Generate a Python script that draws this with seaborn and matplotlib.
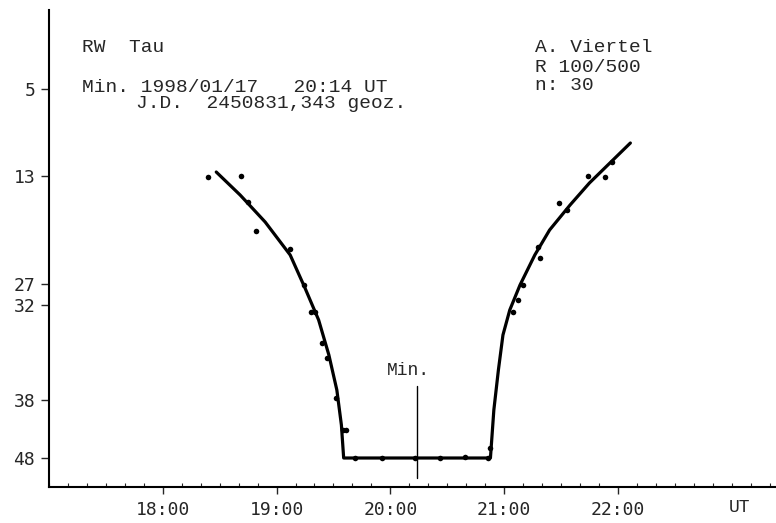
import matplotlib
matplotlib.use("Agg")
import matplotlib.pyplot as plt
import seaborn as sns
import pandas as pd
from matplotlib.ticker import MultipleLocator

# ---- data (UT in decimal hours, brightness in step units, 0 = top) ----
obs_time = [18.40, 18.69, 18.75, 18.82, 19.12, 19.24, 19.30, 19.34, 19.40, 19.44,
            19.52, 19.58, 19.61, 19.69, 19.93, 20.22, 20.44, 20.66, 20.86, 20.88,
            21.08, 21.12, 21.17, 21.30, 21.32, 21.48, 21.55, 21.74, 21.89, 21.95]
obs_step = [16.7, 16.6, 19.2, 22.1, 23.9, 27.5, 30.2, 30.2, 33.3, 34.8,
            38.8, 42.0, 42.0, 44.8, 44.8, 44.8, 44.8, 44.7, 44.8, 43.8,
            30.2, 29.0, 27.5, 23.7, 24.8, 19.3, 20.0, 16.6, 16.7, 15.2]

curve_time = [18.47, 18.68, 18.90, 19.12, 19.25, 19.37, 19.46, 19.53, 19.57, 19.59,
              20.88, 20.91, 20.95, 20.99, 21.05, 21.14, 21.27, 21.40, 21.58, 21.75,
              21.93, 22.11]
curve_step = [16.2, 18.5, 21.2, 24.5, 27.8, 31.0, 34.5, 38.0, 41.5, 44.8,
              44.8, 40.0, 36.0, 32.5, 30.0, 27.5, 24.5, 22.0, 19.5, 17.3,
              15.3, 13.3]

comp_levels = [7.9, 16.6, 27.4, 29.5, 39.0, 44.8]
comp_labels = ["5", "13", "27", "32", "38", "48"]

hour_ticks = [18, 19, 20, 21, 22]
hour_labels = ["18:00", "19:00", "20:00", "21:00", "22:00"]

min_time = 20.233  # 20:14 UT

obs = pd.DataFrame({"t": obs_time, "m": obs_step})
fit = pd.DataFrame({"t": curve_time, "m": curve_step})

sns.set_style("ticks")
plt.rcParams["font.family"] = ["DejaVu Sans Mono", "DejaVu Sans"]
TYPE = ["Liberation Mono", "DejaVu Sans Mono"]

fig = plt.figure(figsize=(7.76, 5.23), dpi=100)
ax = fig.add_axes([49 / 776, 1 - 487 / 523, 1 - 49 / 776, (487 - 10) / 523])

sns.lineplot(data=fit, x="t", y="m", sort=False, color="black", lw=2.3, ax=ax)
sns.scatterplot(data=obs, x="t", y="m", color="black", s=16, linewidth=0, ax=ax)

ax.set_xlim(17.0, 23.39)
ax.set_ylim(47.7, 0)

# Min marker
ax.plot([min_time, min_time], [37.6, 46.8], color="black", lw=1.0, clip_on=False)
ax.text(20.16, 36.1, "Min.", ha="center", va="center", fontsize=13, family=TYPE)

ax.set_xticks(hour_ticks)
ax.set_xticklabels(hour_labels, fontsize=13)
ax.xaxis.set_minor_locator(MultipleLocator(1 / 6))
ax.tick_params(axis="x", which="major", direction="out", length=5, width=1, pad=5)
ax.tick_params(axis="x", which="minor", direction="in", length=3, width=0.8)
ax.set_yticks(comp_levels)
ax.set_yticklabels(comp_labels, fontsize=13)
ax.tick_params(axis="y", direction="out", length=6, width=1, pad=4)

ax.set_xlabel("")
ax.set_ylabel("")
for s in ["top", "right"]:
    ax.spines[s].set_visible(False)
for s in ["left", "bottom"]:
    ax.spines[s].set_linewidth(1.5)
    ax.spines[s].set_color("black")

ax.text(23.07, -20 / 477, "UT", transform=ax.get_xaxis_transform(),
        ha="center", va="center", fontsize=13, family=TYPE)

# annotations (figure pixel positions)
def ftxt(x, y, s, **kw):
    fig.text(x / 776, 1 - y / 523, s, ha="left", va="center", fontsize=14,
             family=TYPE, **kw)

ftxt(82, 47, "RW  Tau")
ftxt(82, 87, "Min. 1998/01/17   20:14 UT")
ftxt(136, 103, "J.D.  2450831,343 geoz.")
ftxt(535, 48, "A. Viertel")
ftxt(535, 67, "R 100/500")
ftxt(535, 86, "n: 30")

fig.savefig("out.png", dpi=100)
